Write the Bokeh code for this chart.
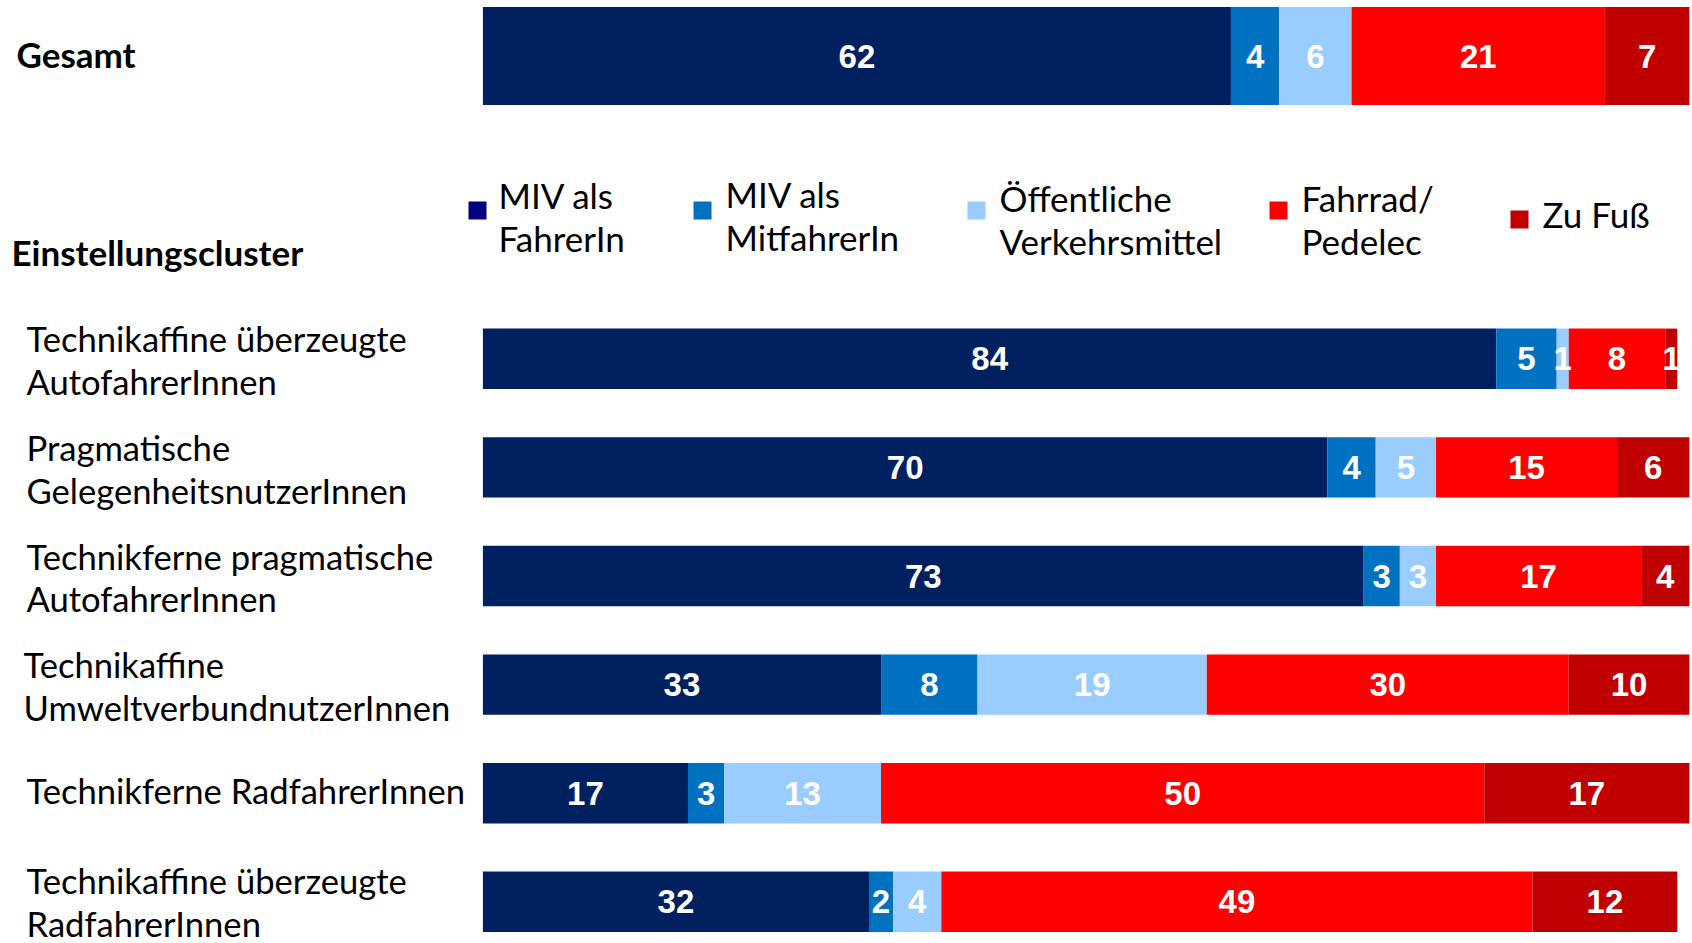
import numpy as np
from bokeh.plotting import figure
from bokeh.models import ColumnDataSource, Range1d
from bokeh.core.properties import value
from bokeh.embed import file_html
from bokeh.resources import INLINE

# ---------------- data ----------------
total_label = "Gesamt"
section_label = "Einstellungscluster"
clusters = [
    "Technikaffine überzeugte\nAutofahrerInnen",
    "Pragmatische\nGelegenheitsnutzerInnen",
    "Technikferne pragmatische\nAutofahrerInnen",
    "Technikaffine\nUmweltverbundnutzerInnen",
    "Technikferne RadfahrerInnen",
    "Technikaffine überzeugte\nRadfahrerInnen",
]
series_names = ["MIV als\nFahrerIn", "MIV als\nMitfahrerIn", "Öffentliche\nVerkehrsmittel",
                "Fahrrad/\nPedelec", "Zu Fuß"]
# first value = Gesamt, then the six clusters
miv_fahrer    = [62, 84, 70, 73, 33, 17, 32]
miv_mitfahrer = [4, 5, 4, 3, 8, 3, 2]
oev           = [6, 1, 5, 3, 19, 13, 4]
fahrrad       = [21, 8, 15, 17, 30, 50, 49]
zu_fuss       = [7, 1, 6, 4, 10, 17, 12]

# ---------------- styles / layout ----------------
colors = ["#002060", "#0070C0", "#99CCFF", "#FF0000", "#C00000"]
legend_colors = ["#000080", "#0070C0", "#99CCFF", "#FF0000", "#C00000"]
FIG_W, FIG_H = 1692, 943
BAR_LEFT_PX, BAR_FULL_PX = 482.4, 1206.5
GESAMT_Y, GESAMT_H = 55.6, 98
ROW0_Y, ROW_STEP, ROW_H = 358.3, 108.6, 60.4
LABEL_FONT = "Lato"
NUM_FONT = "Liberation Sans"
TXT_SIZE = "35px"
CAT_SIZE = "34.6px"
LINE_H = 1.04


def px2x(px):
    return (px - BAR_LEFT_PX) / BAR_FULL_PX * 100.0


keys = ["s0", "s1", "s2", "s3", "s4"]
vals = np.array([miv_fahrer, miv_mitfahrer, oev, fahrrad, zu_fuss], dtype=float)
n_rows = vals.shape[1]
ys = [GESAMT_Y] + [ROW0_Y + i * ROW_STEP for i in range(n_rows - 1)]
hs = [GESAMT_H] + [ROW_H] * (n_rows - 1)

data = {k: vals[i] for i, k in enumerate(keys)}
data["y"] = ys
data["h"] = hs
src = ColumnDataSource(data)

p = figure(width=FIG_W, height=FIG_H,
           x_range=Range1d(px2x(0), px2x(FIG_W)), y_range=Range1d(FIG_H, 0),
           output_backend="svg", toolbar_location=None, min_border=0,
           x_axis_location=None, y_axis_location=None, outline_line_color=None)
p.grid.visible = False

p.hbar_stack(keys, y="y", height="h", color=colors, line_color=None, source=src)

# value labels
cum = np.cumsum(vals, axis=0)
centers = cum - vals / 2.0
lx, ly, lt = [], [], []
for i in range(vals.shape[0]):
    for j in range(n_rows):
        lx.append(centers[i, j])
        ly.append(ys[j])
        lt.append(str(int(vals[i, j])))
p.text(x=lx, y=ly, text=lt, text_color="white", text_font=value(NUM_FONT),
       text_font_style="bold", text_font_size="33px", text_align="center",
       text_baseline="middle")

# headings
p.text(x=[px2x(16)], y=[53], text=[total_label], text_font=value(LABEL_FONT),
       text_font_style="bold", text_font_size=TXT_SIZE, text_baseline="middle",
       text_color="black")
p.text(x=[px2x(11)], y=[251], text=[section_label], text_font=value(LABEL_FONT),
       text_font_style="bold", text_font_size=TXT_SIZE, text_baseline="middle",
       text_color="black")

# cluster labels
label_px = [26, 26, 26, 23, 26, 26]
label_dy = [1.5, 1.5, 1.5, 1.5, -3, 0]
p.text(x=[px2x(v) for v in label_px], y=[y + d for y, d in zip(ys[1:], label_dy)],
       text=clusters, text_font=value(LABEL_FONT), text_font_size=CAT_SIZE,
       text_baseline="middle", text_align="left", text_line_height=LINE_H,
       text_color="black")

# legend
leg_sq_px = [477, 702, 976, 1278, 1519]
leg_sq_y = [210, 210, 210, 210, 219]
leg_tx_px = [498, 725, 999, 1301, 1542]
leg_tx_y = [216, 215, 219, 219, 213]
p.scatter(x=[px2x(v) for v in leg_sq_px], y=leg_sq_y, marker="square", size=18,
          color=legend_colors, line_color=None)
p.text(x=[px2x(v) for v in leg_tx_px], y=leg_tx_y, text=series_names,
       text_font=value(LABEL_FONT), text_font_size=TXT_SIZE, text_baseline="middle",
       text_align="left", text_line_height=LINE_H, text_color="black")

open("out.html", "w").write(file_html(p, INLINE))
